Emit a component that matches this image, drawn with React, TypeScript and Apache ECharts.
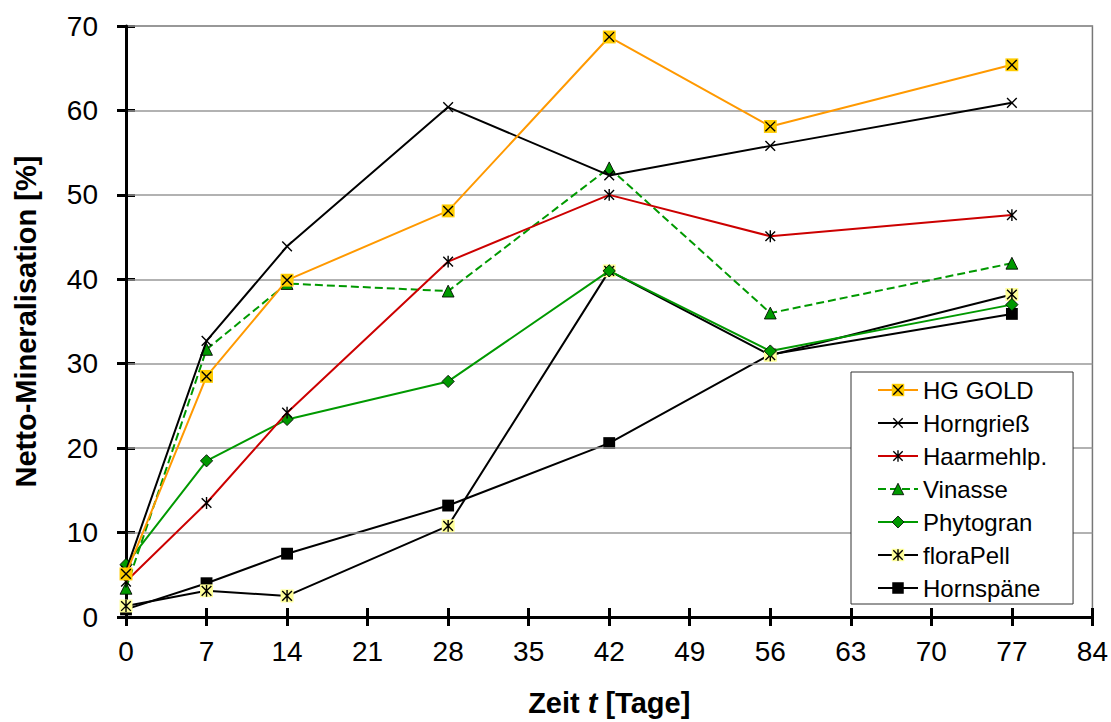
import React, { useEffect, useRef } from "react";
import * as echarts from "echarts";

const days = [0, 7, 14, 28, 42, 56, 77];
const seriesNames = ["HG GOLD", "Horngrieß", "Haarmehlp.", "Vinasse", "Phytogran", "floraPell", "Hornspäne"];
const hgGold = [5.1, 28.5, 39.9, 48.1, 68.7, 58.1, 65.4];
const horngriess = [5.5, 32.7, 43.9, 60.4, 52.3, 55.8, 60.9];
const haarmehl = [4.2, 13.5, 24.2, 42.1, 50.0, 45.1, 47.6];
const vinasse = [3.4, 31.7, 39.5, 38.6, 53.2, 36.0, 41.9];
const phytogran = [6.2, 18.5, 23.4, 27.9, 41.0, 31.5, 37.0];
const florapell = [1.3, 3.1, 2.5, 10.8, 41.0, 31.0, 38.2];
const hornspaene = [0.9, 4.0, 7.5, 13.2, 20.6, 31.1, 35.9];
const yTicks = [0, 10, 20, 30, 40, 50, 60, 70];
const xTicks = [0, 7, 14, 21, 28, 35, 42, 49, 56, 63, 70, 77, 84];

const svgUri = (body: string) =>
  "image://data:image/svg+xml;charset=utf-8," +
  encodeURIComponent(
    `<svg xmlns="http://www.w3.org/2000/svg" width="26" height="26" viewBox="0 0 13 13">${body}</svg>`
  );

const X = `<path d="M2 2L11 11M11 2L2 11" stroke="#000" stroke-width="1.3" fill="none"/>`;
const STAR = `<path d="M2 2L11 11M11 2L2 11M6.5 1L6.5 12" stroke="#000" stroke-width="1.3" fill="none"/>`;

const markers = [
  svgUri(`<rect x="0.5" y="0.5" width="12" height="12" fill="#FFCC00"/>${X}`),
  svgUri(X),
  svgUri(STAR),
  svgUri(`<polygon points="6.5,1 12,12 1,12" fill="#009900" stroke="#000" stroke-width="0.8"/>`),
  svgUri(`<polygon points="6.5,0.8 12.2,6.5 6.5,12.2 0.8,6.5" fill="#009900" stroke="#000" stroke-width="0.8"/>`),
  svgUri(`<rect x="0.5" y="0.5" width="12" height="12" fill="#FFFF99"/>${STAR}`),
  svgUri(`<rect x="1" y="1" width="11" height="11" fill="#000"/>`),
];

const lineColors = ["#FF9900", "#000000", "#CC0000", "#009900", "#009900", "#000000", "#000000"];
const lineTypes = ["solid", "solid", "solid", "dashed", "solid", "solid", "solid"];
const values = [hgGold, horngriess, haarmehl, vinasse, phytogran, florapell, hornspaene];

const FONT = "'Liberation Sans', Arial, sans-serif";

export default function App() {
  const ref = useRef<HTMLDivElement>(null);
  useEffect(() => {
    if (!ref.current) return;
    const chart = echarts.init(ref.current, undefined, { renderer: "svg" });
    const series = seriesNames.map((name, i) => ({
      name,
      type: "line",
      data: days.map((d, j) => [d, values[i][j]]),
      symbol: markers[i],
      symbolSize: 14,
      lineStyle: { color: lineColors[i], width: 2, type: lineTypes[i] },
      itemStyle: { color: lineColors[i] },
      z: 10 - i,
    }));
    chart.setOption({
      animation: false,
      backgroundColor: "#fff",
      textStyle: { fontFamily: FONT },
      grid: {
        left: 126,
        right: 18,
        top: 26,
        bottom: 101,
        show: true,
        borderColor: "#777",
        borderWidth: 1.5,
        backgroundColor: "transparent",
      },
      legend: {
        orient: "vertical",
        left: 851,
        top: 372,
        data: seriesNames,
        itemWidth: 40,
        itemHeight: 17,
        itemGap: 9,
        padding: [6, 26, 4, 26],
        backgroundColor: "#fff",
        borderColor: "#333",
        borderWidth: 1,
        borderRadius: 0,
        textStyle: { fontSize: 24, color: "#000", fontFamily: FONT, lineHeight: 24 },
        z: 20,
      },
      xAxis: [
        {
          type: "value",
          min: xTicks[0],
          max: xTicks[xTicks.length - 1],
          interval: 7,
          axisLine: { show: true, lineStyle: { color: "#000", width: 3 } },
          axisTick: { show: true, inside: false, length: 9, lineStyle: { color: "#000", width: 3 } },
          axisLabel: { fontSize: 28, color: "#000", margin: 20, fontFamily: FONT },
          splitLine: { show: false },
          name: "{b|Zeit }{i|t}{b| [Tage]}",
          nameLocation: "middle",
          nameGap: 71,
          nameTextStyle: {
            rich: {
              b: { fontSize: 29, fontWeight: "bold", color: "#000", fontFamily: FONT },
              i: { fontSize: 29, fontWeight: "bold", fontStyle: "italic", color: "#000", fontFamily: FONT },
            },
          },
          z: 5,
        },
        {
          type: "value",
          position: "bottom",
          min: xTicks[0],
          max: xTicks[xTicks.length - 1],
          interval: 7,
          axisLine: { show: false },
          axisTick: { show: true, inside: true, length: 9, lineStyle: { color: "#000", width: 3 } },
          axisLabel: { show: false },
          splitLine: { show: false },
        },
      ],
      yAxis: [
        {
          type: "value",
          min: yTicks[0],
          max: yTicks[yTicks.length - 1],
          interval: 10,
          axisLine: { show: true, lineStyle: { color: "#000", width: 3 } },
          axisTick: { show: true, inside: false, length: 9, lineStyle: { color: "#000", width: 3 } },
          axisLabel: { fontSize: 28, color: "#000", margin: 28, fontFamily: FONT },
          splitLine: { show: true, lineStyle: { color: "#999", width: 1.5 } },
          name: "Netto-Mineralisation [%]",
          nameLocation: "middle",
          nameGap: 86,
          nameTextStyle: { fontSize: 29, fontWeight: "bold", color: "#000", fontFamily: FONT },
          z: 5,
        },
        {
          type: "value",
          position: "left",
          min: yTicks[0],
          max: yTicks[yTicks.length - 1],
          interval: 10,
          axisLine: { show: false },
          axisTick: { show: true, inside: true, length: 9, lineStyle: { color: "#000", width: 3 } },
          axisLabel: { show: false },
          splitLine: { show: false },
        },
      ],
      series,
    });
    return () => chart.dispose();
  }, []);
  return (
    <div
      ref={ref}
      style={{ position: "fixed", left: 0, top: 0, width: 1111, height: 722, background: "#fff" }}
    />
  );
}
